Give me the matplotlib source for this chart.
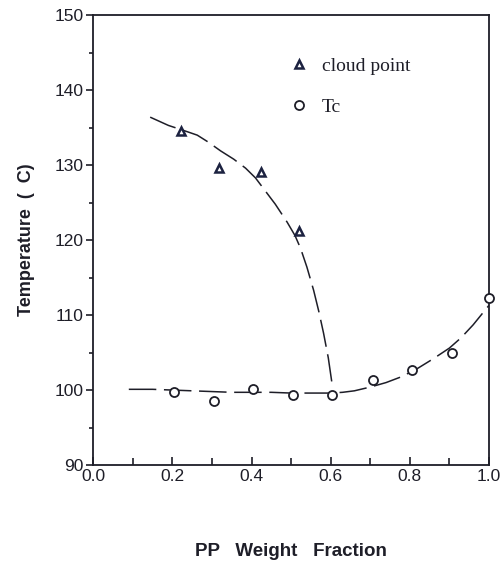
import numpy as np
import matplotlib.pyplot as plt
import matplotlib as mpl
from matplotlib.ticker import MultipleLocator

mpl.rcParams.update({
    "font.family": "Liberation Sans",
    "axes.unicode_minus": False,
})

# measured points
cloud_x = [0.223, 0.319, 0.423, 0.519]
cloud_y = [134.5, 129.6, 129.1, 121.2]
tc_x = [0.205, 0.306, 0.405, 0.506, 0.603, 0.706, 0.805, 0.906, 1.0]
tc_y = [99.8, 98.5, 100.2, 99.4, 99.4, 101.3, 102.7, 104.9, 112.3]

# hand-drawn guide curves
cloud_fit_x = [0.144, 0.19, 0.23, 0.263, 0.29, 0.322, 0.355, 0.385, 0.41, 0.43,
               0.46, 0.49, 0.51, 0.524, 0.54, 0.557, 0.57, 0.582, 0.594, 0.605]
cloud_fit_y = [136.4, 135.3, 134.6, 134.0, 133.1, 131.9, 130.8, 129.6, 128.3, 126.9,
               124.8, 122.4, 120.6, 118.9, 116.4, 113.3, 110.5, 107.6, 104.3, 100.3]
tc_fit_x = [0.09, 0.15, 0.2, 0.25, 0.3, 0.35, 0.4, 0.45, 0.5, 0.55, 0.6, 0.63,
            0.66, 0.7, 0.74, 0.78, 0.82, 0.86, 0.9, 0.93, 0.96, 0.98, 1.0]
tc_fit_y = [100.1, 100.1, 100.0, 99.9, 99.8, 99.7, 99.7, 99.7, 99.6, 99.6, 99.6, 99.7,
            99.9, 100.4, 101.0, 101.8, 102.9, 104.2, 105.6, 107.0, 108.7, 110.0, 111.3]

ink = '#1e1e28'
mark = '#1c2240'

fig = plt.figure(figsize=(5.01, 5.63), dpi=100)
ax = fig.add_axes([0.186, 0.174, 0.790, 0.799])

ax.plot(cloud_fit_x, cloud_fit_y, color=ink, linewidth=1.1, dashes=(18, 5), zorder=2)
ax.plot(tc_fit_x, tc_fit_y, color=ink, linewidth=1.1, dashes=(18, 5), zorder=2)

ax.plot(cloud_x, cloud_y, linestyle='none', marker='^', markersize=6,
        markerfacecolor='white', markeredgecolor=mark, markeredgewidth=1.8,
        label='cloud point', zorder=3, clip_on=False)
ax.plot(tc_x, tc_y, linestyle='none', marker='o', markersize=6.5,
        markerfacecolor='white', markeredgecolor=ink, markeredgewidth=1.3,
        label='Tc', zorder=3, clip_on=False)

ax.set_xlim(0.0, 1.0)
ax.set_ylim(90, 150)
ax.xaxis.set_major_locator(MultipleLocator(0.2))
ax.xaxis.set_minor_locator(MultipleLocator(0.1))
ax.yaxis.set_major_locator(MultipleLocator(10))
ax.yaxis.set_minor_locator(MultipleLocator(5))
ax.xaxis.set_major_formatter(mpl.ticker.FormatStrFormatter('%.1f'))

ax.tick_params(axis='x', which='both', direction='in', labelsize=12.5, colors=ink, pad=3)
ax.tick_params(axis='x', which='major', length=6, width=1.2)
ax.tick_params(axis='x', which='minor', length=5, width=1.2)
ax.tick_params(axis='y', which='both', direction='out', labelsize=12.5, colors=ink, pad=2)
ax.tick_params(axis='y', which='major', length=5, width=1.2)
ax.tick_params(axis='y', which='minor', length=3, width=1.2)

for spine in ax.spines.values():
    spine.set_linewidth(1.3)
    spine.set_color(ink)

ax.set_xlabel('PP   Weight   Fraction', fontsize=13.5, fontweight='bold', color=ink, labelpad=42)
ax.set_ylabel('Temperature  (  C)', fontsize=13, fontweight='bold', color=ink, labelpad=14)

leg = ax.legend(loc='upper left', bbox_to_anchor=(0.45, 0.945), frameon=False,
                prop={'family': 'Liberation Serif', 'size': 14},
                handlelength=1.0, handletextpad=0.7, labelspacing=1.2, numpoints=1)
for t in leg.get_texts():
    t.set_color(ink)

fig.savefig('out.png', dpi=100, facecolor='white')
plt.close()
